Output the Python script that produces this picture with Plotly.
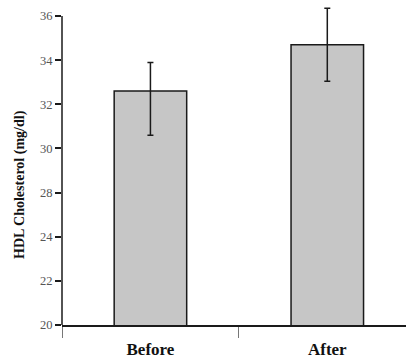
import plotly.graph_objects as go

categories = ["Before", "After"]
means = [32.6, 34.7]
err_plus = [1.3, 1.65]
err_minus = [2.0, 1.65]
tick_values = [22, 24, 26, 28, 30, 32, 34, 36]
tick_labels = ["20", "22", "24", "28", "30", "32", "34", "36"]

fig = go.Figure()
fig.add_trace(go.Bar(
    x=categories, y=means, width=0.41,
    marker=dict(color="#c6c6c6", line=dict(color="#1a1a1a", width=1.5)),
    error_y=dict(type="data", symmetric=False, array=err_plus, arrayminus=err_minus,
                 color="#1a1a1a", thickness=1.5, width=3),
))

fig.update_layout(
    template="none",
    width=406, height=358,
    margin=dict(l=62, r=0, t=5, b=33, pad=0),
    plot_bgcolor="white", paper_bgcolor="white",
    showlegend=False, bargap=0.59,
    font=dict(family="Liberation Serif", color="#111"),
    xaxis=dict(
        type="category", range=[-0.5, 1.445], automargin=False,
        showline=True, linecolor="#1a1a1a", linewidth=1.5,
        ticks="outside", tickson="boundaries", ticklen=11, tickwidth=1,
        tickcolor="#777", ticklabelstandoff=8,
        tickfont=dict(family="Liberation Serif", size=17, color="#111", weight="bold"),
        showgrid=False, zeroline=False,
    ),
    yaxis=dict(
        range=[22, 36.5], automargin=False,
        tickmode="array", tickvals=tick_values, ticktext=tick_labels,
        ticks="outside", ticklen=6, tickwidth=1.5, tickcolor="#1a1a1a",
        tickfont=dict(family="Liberation Serif", size=12.5, color="#555"),
        showline=False, showgrid=False, zeroline=False,
    ),
    shapes=[dict(type="line", xref="paper", yref="y", x0=0, x1=0, y0=22, y1=36,
                 line=dict(color="#1a1a1a", width=1.5), layer="above")],
    annotations=[dict(text="<b>HDL Cholesterol (mg/dl)</b>", xref="paper", yref="paper",
                      x=-(62 - 10) / 344, xanchor="left", y=(358 - 33 - 185) / 320, yanchor="middle",
                      textangle=-90, showarrow=False,
                      font=dict(family="Liberation Serif", size=14, color="#111"))],
)

fig.write_html("out.html", config={"displayModeBar": False},
               post_script="document.body.style.margin='0';document.body.style.overflow='hidden';")
